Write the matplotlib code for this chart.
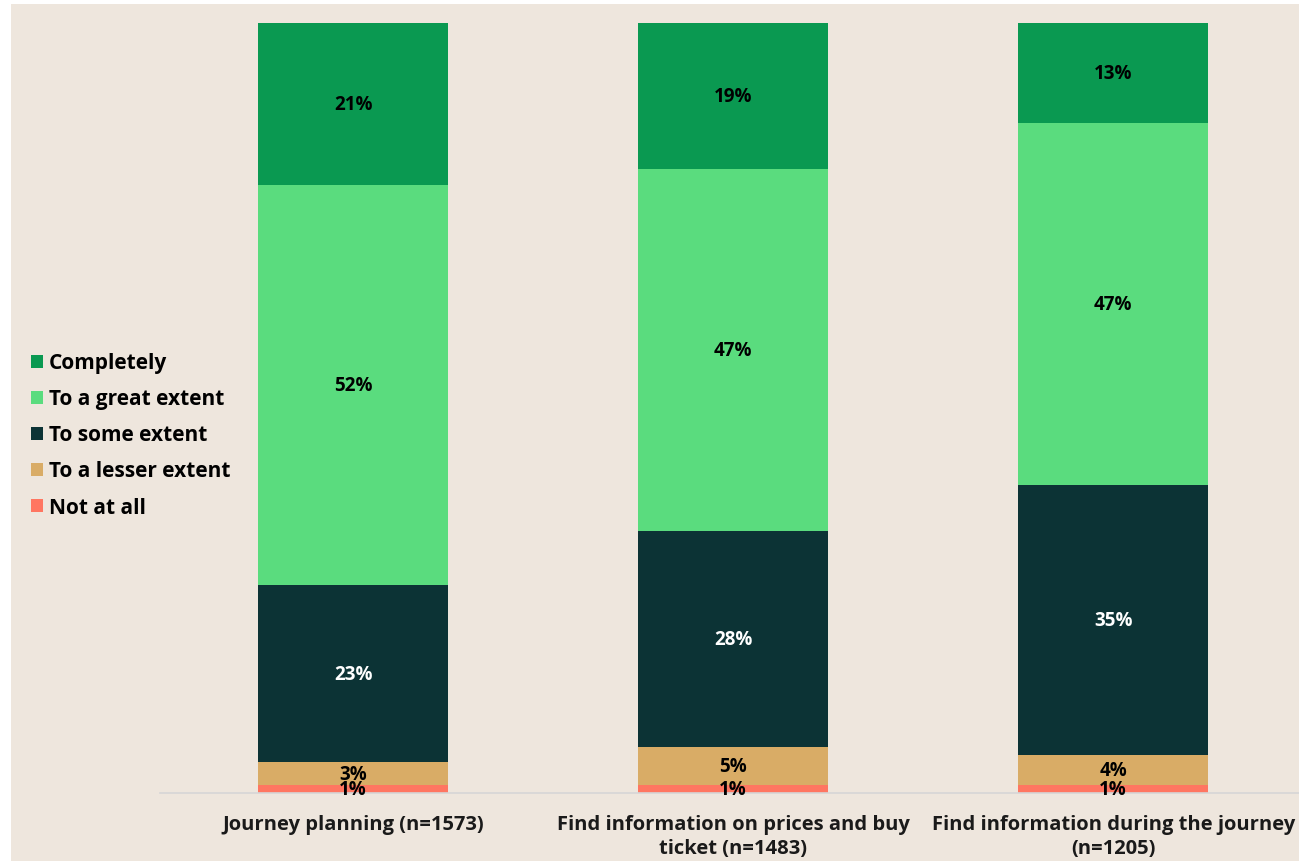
import matplotlib
matplotlib.use("Agg")
import matplotlib.pyplot as plt
from matplotlib.patches import Patch, Rectangle
import numpy as np

plt.rcParams['font.family'] = ['Open Sans', 'DejaVu Sans']

categories = ["Journey planning (n=1573)",
              "Find information on prices and buy\nticket (n=1483)",
              "Find information during the journey\n(n=1205)"]
levels = ["Not at all", "To a lesser extent", "To some extent",
          "To a great extent", "Completely"]
not_at_all = [1, 1, 1]
lesser = [3, 5, 4]
some = [23, 28, 35]
great = [52, 47, 47]
completely = [21, 19, 13]

colors = ["#FF7661", "#D9AC66", "#0C3335", "#5ADC7E", "#0A9951"]
text_colors = ["black", "black", "white", "black", "black"]
bg = "#EEE6DD"

W, H = 1299, 862
fig = plt.figure(figsize=(W / 100, H / 100), dpi=100, facecolor="white")
fig.patches.append(Rectangle((11 / W, 0), 1 - 11 / W, (H - 5) / H,
                             transform=fig.transFigure, facecolor=bg,
                             edgecolor="none", zorder=-10))

ax = fig.add_axes([160 / W, (H - 794) / H, 1 - 160 / W, 770 / H])
ax.set_facecolor("none")

x = np.arange(len(categories))
series = [not_at_all, lesser, some, great, completely]
bottom = np.zeros(len(categories))
for vals, col, tc, name in zip(series, colors, text_colors, levels):
    vals = np.array(vals, dtype=float)
    ax.bar(x, vals, bottom=bottom, width=0.5, color=col, label=name, zorder=2)
    for xi, b, v in zip(x, bottom, vals):
        ax.text(xi, b + v / 2, f"{int(v)}%", ha="center", va="center",
                fontsize=13.5, fontweight="bold", color=tc, zorder=3)
    bottom += vals

ax.set_xlim(-0.508, 2.489)
ax.set_ylim(0, 100)
for s in ["top", "right", "left"]:
    ax.spines[s].set_visible(False)
ax.spines["bottom"].set_color("#D6D6D6")
ax.spines["bottom"].set_linewidth(1.2)
ax.set_yticks([])
ax.set_xticks(x)
ax.set_xticklabels(categories, fontsize=14.5, fontweight="bold", color="#1A1A1A",
                   linespacing=1.3)
ax.tick_params(axis="x", length=0, pad=15)

handles = [Patch(facecolor=c, edgecolor="none") for c in colors[::-1]]
fig.legend(handles, levels[::-1], loc="center left",
           bbox_to_anchor=(31 / W, 1 - 436 / H), frameon=False,
           prop={"weight": "bold", "size": 15},
           handlelength=0.58, handleheight=0.58, handletextpad=0.28,
           labelspacing=0.72, borderpad=0, borderaxespad=0)

fig.savefig("out.png", dpi=100, facecolor="white")
